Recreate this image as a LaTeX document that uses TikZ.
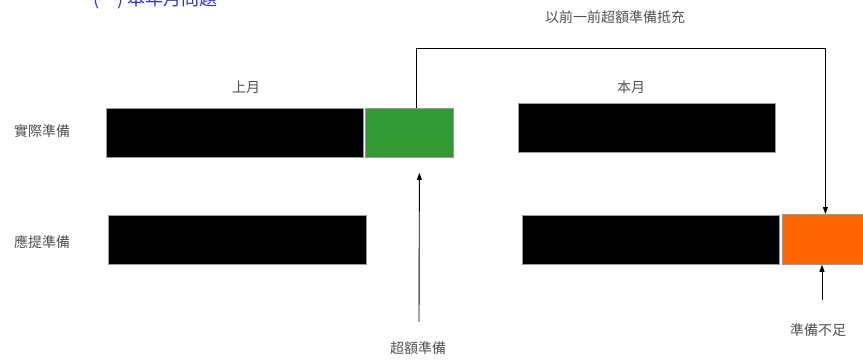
\documentclass[tikz,border=0pt]{standalone}
\usepackage{fontspec}
\newfontfamily\cjk{Noto Sans CJK TC}
\usetikzlibrary{arrows.meta}
\definecolor{txtgray}{HTML}{505050}
\definecolor{boxgreen}{HTML}{339933}
\definecolor{boxorange}{HTML}{FF6600}
\definecolor{titleblue}{HTML}{3333CC}
\tikzset{
  lbl/.style={font=\cjk\fontsize{14}{16}\selectfont, text=txtgray, inner sep=0pt},
  bar/.style={rectangle, fill=black, draw=gray!80, line width=0.8pt, inner sep=0pt, anchor=north west},
  gbox/.style={rectangle, fill=boxgreen, draw=gray!80, line width=0.8pt, inner sep=0pt, anchor=north west},
  obox/.style={rectangle, fill=boxorange, draw=gray!80, line width=0.8pt, inner sep=0pt, anchor=north west},
  arr/.style={draw=black, line width=0.9pt, -{Triangle[length=7pt,width=5pt]}},
  link/.style={draw=black, line width=0.9pt}
}
\begin{document}
\begin{tikzpicture}[x=1pt,y=-1pt]
\useasboundingbox (0,0) rectangle (863,360);
\begin{scope}
\clip (0,0) rectangle (863,360);
\node[font=\cjk\fontsize{18}{20}\selectfont, text=titleblue, inner sep=0pt, anchor=base west] (title) at (93,5) {(一) 本年月問題};
\end{scope}
% labels
\node[lbl] (top) at (615,17) {以前一前超額準備抵充};
\node[lbl] (last) at (246,87) {上月};
\node[lbl] (this) at (631,87) {本月};
\node[lbl] (act) at (42,131) {實際準備};
\node[lbl] (req) at (42,242) {應提準備};
\node[lbl] (exc) at (418,348) {超額準備};
\node[lbl] (sho) at (818,330) {準備不足};
% bars
\node[bar, minimum width=257pt, minimum height=49pt] (a1) at (106,108) {};
\node[gbox, minimum width=88pt, minimum height=49pt] (g) at (365,108) {};
\node[bar, minimum width=258pt, minimum height=49pt] (r1) at (108,215) {};
\node[bar, minimum width=257pt, minimum height=49pt] (a2) at (518,103) {};
\node[bar, minimum width=257pt, minimum height=49pt] (r2) at (522,215) {};
\node[obox, minimum width=84pt, minimum height=50pt] (o) at (782,214) {};
% connectors
\draw[link, -{Triangle[length=7pt,width=5pt]}] ([xshift=7pt]g.north) -- ++(0,-60) -| ([xshift=1pt]o.north);
\coordinate (s1) at (419,322);
\draw[arr] (s1) -- ([xshift=10pt,yshift=-15pt]g.south);
\coordinate (s2) at (822,300);
\draw[arr] (s2) -- (o.south -| s2);
\end{tikzpicture}
\end{document}
